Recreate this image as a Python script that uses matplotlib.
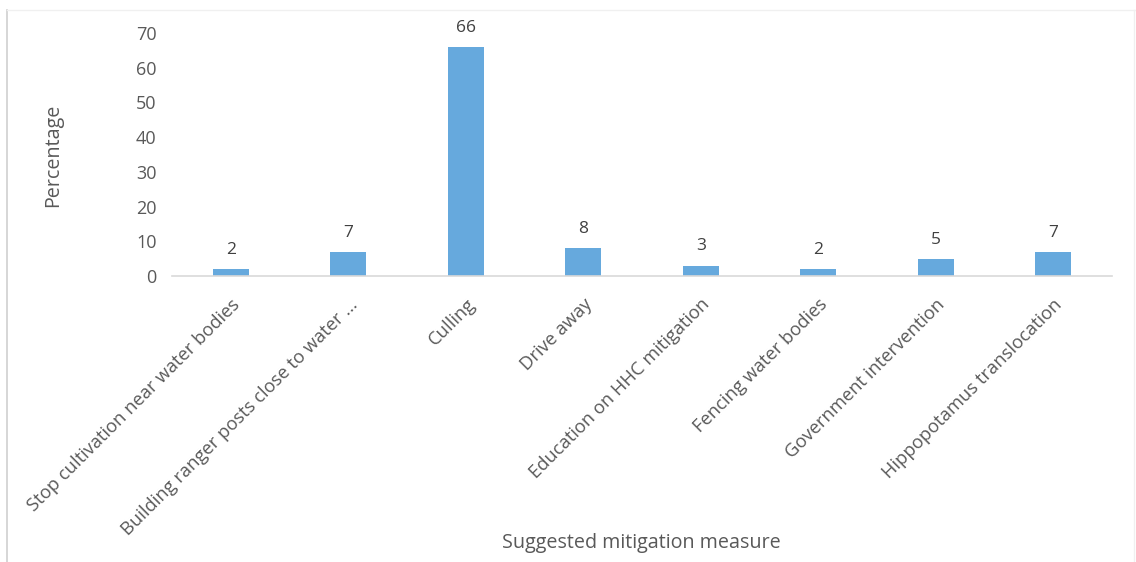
import matplotlib.pyplot as plt
import matplotlib.transforms as mtransforms
from matplotlib.lines import Line2D

measures = [
    "Stop cultivation near water bodies",
    "Building ranger posts close to water ...",
    "Culling",
    "Drive away",
    "Education on HHC mitigation",
    "Fencing water bodies",
    "Government intervention",
    "Hippopotamus translocation",
]
percent = [2, 7, 66, 8, 3, 2, 5, 7]
y_ticks = [0, 10, 20, 30, 40, 50, 60, 70]

BAR_COLOR = "#66a9dd"
TEXT_GRAY = "#595959"

plt.rcParams["font.family"] = ["Open Sans", "DejaVu Sans"]

fig = plt.figure(figsize=(11.36, 5.62), dpi=100)
ax = fig.add_axes([0.1514, 0.5089, 0.8275, 0.4324])

x = list(range(len(measures)))
bars = ax.bar(x, percent, width=0.31, color=BAR_COLOR, zorder=2)

for b, v in zip(bars, percent):
    ax.annotate(str(v), (b.get_x() + b.get_width() / 2, v),
                xytext=(0, 8), textcoords="offset points",
                ha="center", va="bottom", fontsize=12.5,
                color="#404040", clip_on=False)

ax.set_xlim(-0.5, len(measures) - 0.5)
ax.set_ylim(0, 70)
ax.set_yticks(y_ticks)
ax.set_xticks(x)
ax.set_xticklabels(measures, rotation=45, ha="right", rotation_mode="anchor")

# nudge the slanted category labels a little to the left
shift = mtransforms.ScaledTranslation(-4 / 72, 0, fig.dpi_scale_trans)
for lbl in ax.get_xticklabels():
    lbl.set_transform(lbl.get_transform() + shift)

for s in ["top", "right", "left"]:
    ax.spines[s].set_visible(False)
ax.spines["bottom"].set_color("#d9d9d9")
ax.spines["bottom"].set_linewidth(1.2)

ax.tick_params(axis="both", length=0, colors=TEXT_GRAY)
ax.tick_params(axis="y", pad=11, labelsize=13)
ax.tick_params(axis="x", pad=14, labelsize=13.2)

fig.text(0.0467, 0.724, "Percentage", rotation=90, ha="center", va="center",
         fontsize=14.2, color=TEXT_GRAY)
fig.text(0.565, 0.034, "Suggested mitigation measure",
         ha="center", va="center", fontsize=14.2, color=TEXT_GRAY)

# faint frame around the chart area
fig.add_artist(Line2D([0.0062, 0.0062], [0, 0.982], color="#cfcfcf", lw=1.2))
fig.add_artist(Line2D([0.0062, 1.0], [0.982, 0.982], color="#f0f0f0", lw=1))
fig.add_artist(Line2D([0.9985, 0.9985], [0, 0.982], color="#f0f0f0", lw=1))

fig.savefig("out.png", dpi=100)
